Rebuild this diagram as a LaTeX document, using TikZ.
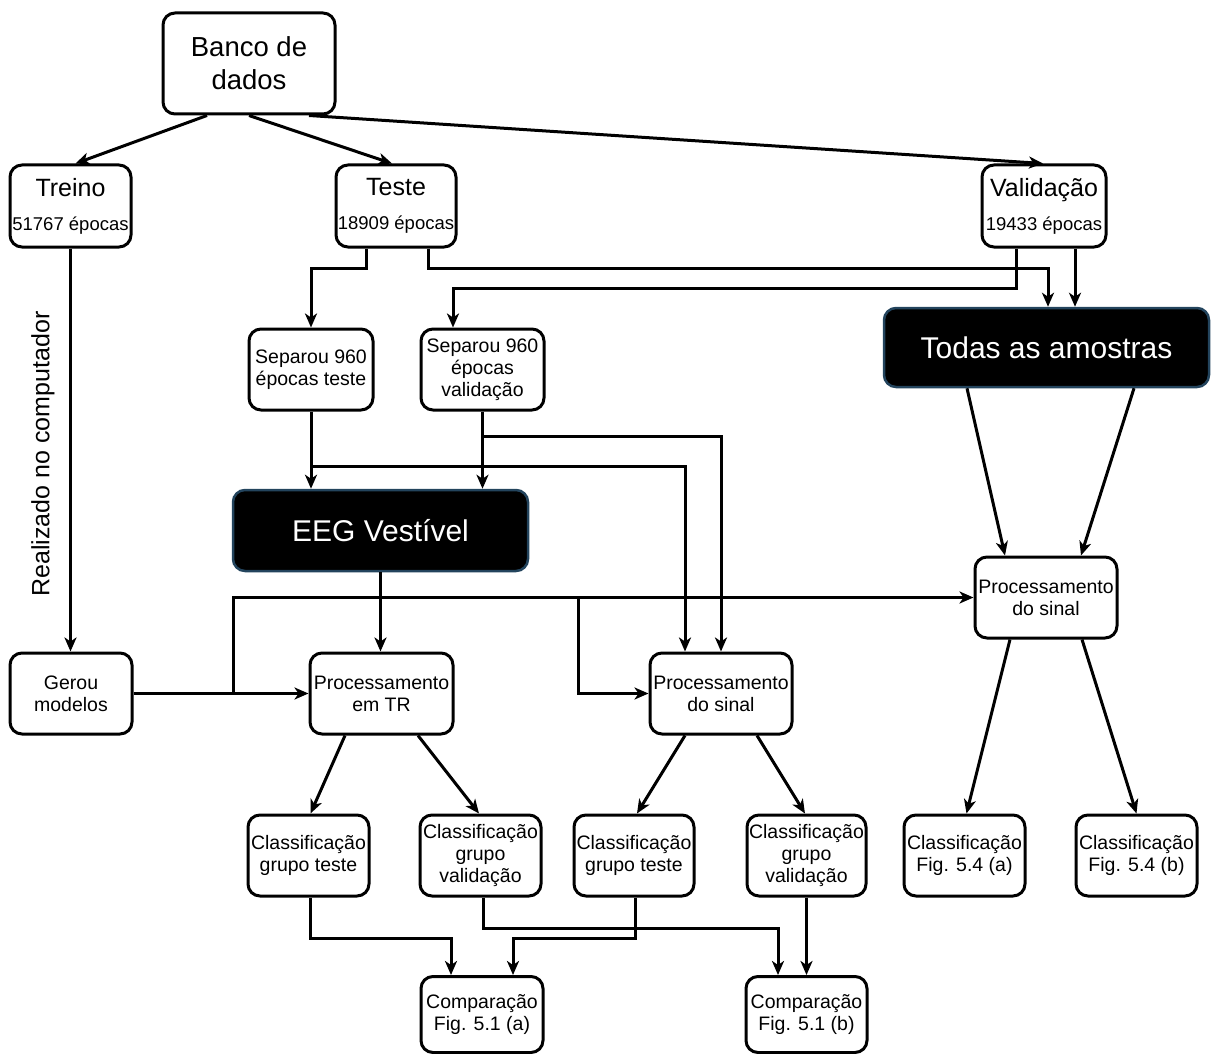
\documentclass[tikz,border=0pt]{standalone}
\usepackage{fontspec}
\setmainfont{Liberation Sans}
\usetikzlibrary{arrows.meta,calc}
\definecolor{darkedge}{RGB}{35,68,93}
\tikzset{
  box/.style={draw=black, line width=3pt, rounded corners=12pt, fill=white,
    align=center, inner sep=0pt, font=\fontsize{19.5}{22}\selectfont},
  darkbox/.style={draw=darkedge, line width=2.5pt, rounded corners=12pt, fill=black,
    text=white, align=center, inner sep=0pt, font=\fontsize{30}{34}\selectfont},
  arr/.style={line width=3pt, -{Stealth[length=14pt,width=12pt,inset=4pt]}},
}
\newcommand{\bigtxt}{\fontsize{25}{29}\selectfont}
\newcommand{\eptxt}{\fontsize{18.5}{22}\selectfont}
\begin{document}
\begin{tikzpicture}[x=1pt,y=-1pt]
\useasboundingbox (0,0) rectangle (1211,1054);

% --- boxes ---
\node[box, minimum width=172pt, minimum height=101pt, font=\fontsize{27.5}{33}\selectfont]
  (bank) at (249,63.5) {Banco de\\dados};
\node[box, minimum width=121pt, minimum height=82pt] (treino) at (70.5,206)
  {{\bigtxt Treino}\\[12pt]{\eptxt 51767 épocas}};
\node[box, minimum width=120pt, minimum height=82pt] (teste) at (396,206)
  {{\bigtxt Teste}\\[12pt]{\eptxt 18909 épocas}};
\node[box, minimum width=124pt, minimum height=82pt] (valid) at (1044,206)
  {{\bigtxt Validação}\\[12pt]{\eptxt 19433 épocas}};
\node[darkbox, minimum width=325pt, minimum height=79pt] (todas) at (1046.5,347.5)
  {Todas as amostras};

\node[box, minimum width=124pt, minimum height=81pt] (septeste) at (311,369.5)
  {Separou 960\\épocas teste};
\node[box, minimum width=123pt, minimum height=81pt] (sepval) at (482.5,369.5)
  {Separou 960\\épocas\\validação};
\node[darkbox, minimum width=295pt, minimum height=81pt] (eeg) at (380.5,530.5)
  {EEG Vestível};

\node[box, minimum width=122pt, minimum height=81pt] (gerou) at (71,693.5)
  {Gerou\\modelos};
\node[box, minimum width=143pt, minimum height=81pt] (proctr) at (381.5,693.5)
  {Processamento\\em TR};
\node[box, minimum width=142pt, minimum height=81pt] (procmid) at (721,693.5)
  {Processamento\\do sinal};
\node[box, minimum width=142pt, minimum height=81pt] (procright) at (1046,597.5)
  {Processamento\\do sinal};

\node[box, minimum width=121pt, minimum height=81pt] (cl1) at (308.5,855.5)
  {Classificação\\grupo teste};
\node[box, minimum width=121pt, minimum height=81pt] (cl2) at (480.5,855.5)
  {Classificação\\grupo\\validação};
\node[box, minimum width=120pt, minimum height=81pt] (cl3) at (634,855.5)
  {Classificação\\grupo teste};
\node[box, minimum width=119pt, minimum height=81pt] (cl4) at (806.5,855.5)
  {Classificação\\grupo\\validação};
\node[box, minimum width=121pt, minimum height=81pt] (cl5) at (964.5,855.5)
  {Classificação\\Fig. 5.4 (a)};
\node[box, minimum width=121pt, minimum height=81pt] (cl6) at (1136.5,855.5)
  {Classificação\\Fig. 5.4 (b)};

\node[box, minimum width=122pt, minimum height=76pt] (cmpa) at (482,1014.5)
  {Comparação\\Fig. 5.1 (a)};
\node[box, minimum width=121pt, minimum height=76pt] (cmpb) at (806.5,1014.5)
  {Comparação\\Fig. 5.1 (b)};

\node[rotate=90, font=\bigtxt] (lbl) at (43,454) {Realizado no computador};

% --- junction points on the model line ---
\coordinate (ja) at (233,693.5);
\coordinate (jb) at (578,597.5);

% --- connectors ---
\draw[arr] ($(bank.south)+(-42,0)$) -- ($(treino.north)+(5,0)$);
\draw[arr] (bank.south) -- ($(teste.north)+(-4,0)$);
\draw[arr] ($(bank.south)+(60,0)$) -- ($(valid.north)+(-1,0)$);

\draw[arr] (treino.south) -- (treino.south |- gerou.north);

\draw[arr] ($(teste.south)+(-30,0)$) -- ++(0,20) -| (septeste.north);
\draw[arr] ($(teste.south)+(32,0)$) -- ++(0,20) -| ($(todas.north)+(1.5,0)$);
\draw[arr] ($(valid.south)+(-28,0)$) -- ++(0,40) -| ($(sepval.north)+(-29.5,0)$);
\draw[arr] ($(valid.south)+(31,0)$) -- ($(todas.north)+(28.5,0)$);

\draw[arr] (septeste.south) -- (septeste.south |- eeg.north);
\draw[arr] ($(septeste.south)+(0,55)$) -| ($(procmid.north)+(-36,0)$);
\draw[arr] (sepval.south) -- (sepval.south |- eeg.north);
\draw[arr] ($(sepval.south)+(0,25)$) -| (procmid.north);

\draw[arr] (eeg.south) -- (eeg.south |- proctr.north);

\draw[arr] (gerou.east) -- (proctr.west);
\draw[arr] (ja) |- (procright.west);
\draw[arr] (jb) |- (procmid.west);

\draw[arr] ($(todas.south)+(-79.5,0)$) -- ($(procright.north)+(-41,0)$);
\draw[arr] ($(todas.south)+(87.5,0)$) -- ($(procright.north)+(35,0)$);
\draw[arr] ($(procright.south)+(-36,0)$) -- ($(cl5.north)+(2,0)$);
\draw[arr] ($(procright.south)+(36,0)$) -- (cl6.north);

\draw[arr] ($(proctr.south)+(-36.5,0)$) -- ($(cl1.north)+(2,0)$);
\draw[arr] ($(proctr.south)+(36.5,0)$) -- ($(cl2.north)+(-1.5,0)$);
\draw[arr] ($(procmid.south)+(-36,0)$) -- ($(cl3.north)+(3,0)$);
\draw[arr] ($(procmid.south)+(36,0)$) -- ($(cl4.north)+(-1.5,0)$);

\draw[arr] ($(cl1.south)+(1.5,0)$) -- ++(0,41) -| ($(cmpa.north)+(-31,0)$);
\draw[arr] ($(cl2.south)+(2.5,0)$) -- ++(0,31) -| ($(cmpb.north)+(-28.5,0)$);
\draw[arr] ($(cl3.south)+(1,0)$) -- ++(0,41) -| ($(cmpa.north)+(31,0)$);
\draw[arr] (cl4.south) -- (cmpb.north);
\end{tikzpicture}
\end{document}
